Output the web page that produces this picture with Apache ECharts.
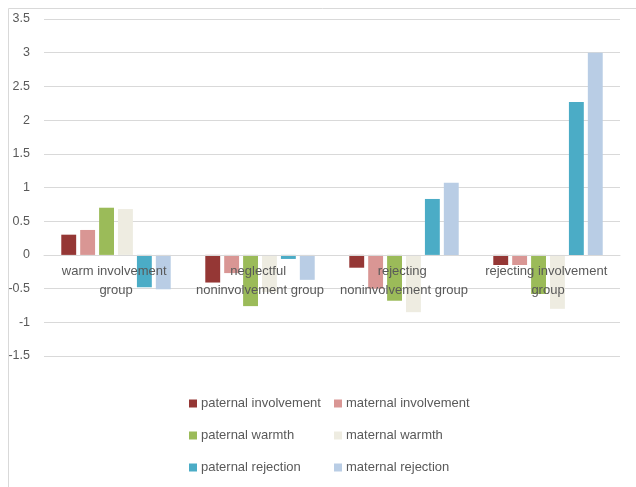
<!DOCTYPE html>
<html>
<head>
<meta charset="utf-8">
<script src="https://cdn.jsdelivr.net/npm/echarts@6/dist/echarts.min.js"></script>
<style>html,body{margin:0;padding:0;background:#fff;}#c{width:636px;height:487px;}</style>
</head>
<body>
<div id="c"></div>
<script>
var categories = ['warm involvement group', 'neglectful noninvolvement group', 'rejecting noninvolvement group', 'rejecting involvement group'];
var seriesNames = ['paternal involvement', 'maternal involvement', 'paternal warmth', 'maternal warmth', 'paternal rejection', 'maternal rejection'];
var paternalInvolvement = [0.30, -0.41, -0.19, -0.15];
var maternalInvolvement = [0.37, -0.27, -0.50, -0.15];
var paternalWarmth = [0.70, -0.76, -0.68, -0.58];
var maternalWarmth = [0.68, -0.55, -0.85, -0.80];
var paternalRejection = [-0.48, -0.06, 0.83, 2.27];
var maternalRejection = [-0.51, -0.37, 1.07, 3.00];
var yMin = -1.5, yMax = 3.5, yStep = 0.5;

var colors = ['#953735', '#d99694', '#9bbb59', '#eeece1', '#4bacc6', '#b9cde5'];
var values = [paternalInvolvement, maternalInvolvement, paternalWarmth, maternalWarmth, paternalRejection, maternalRejection];
var font = '"Liberation Sans", Arial, sans-serif';

var gridTop = 19, gridBottom = 131, chartH = 487;
var plotH = chartH - gridTop - gridBottom;
var zeroOffset = -((0 - yMin) / (yMax - yMin)) * plotH;

var series = seriesNames.map(function (n, i) {
  return {
    name: n, type: 'bar', data: values[i], z: 2,
    itemStyle: { color: colors[i] },
    barGap: '27%', barCategoryGap: '24%'
  };
});

var legendPos = [[189, 397], [334, 397], [189, 429], [334, 429], [189, 461], [334, 461]];
var legends = seriesNames.map(function (n, i) {
  return {
    data: [n], left: legendPos[i][0], top: legendPos[i][1],
    icon: 'rect', itemWidth: 8, itemHeight: 8, itemGap: 0,
    textStyle: { color: '#595959', fontSize: 13, fontFamily: font, padding: [0, 0, 0, -1] },
    padding: 0, selectedMode: false
  };
});

var chart = echarts.init(document.getElementById('c'), null, { renderer: 'canvas' });
chart.setOption({
  animation: false,
  color: colors,
  graphic: [{
    type: 'rect', shape: { x: 8.5, y: 8.5, width: 700, height: 600 },
    style: { fill: null, stroke: '#d9d9d9', lineWidth: 1 }, silent: true
  }],
  grid: { left: 44, right: 16, top: gridTop, bottom: gridBottom, containLabel: false },
  legend: legends,
  xAxis: {
    type: 'category', data: categories, position: 'bottom', offset: zeroOffset, z: 10,
    axisLine: { onZero: false, lineStyle: { color: '#d9d9d9', width: 1 } },
    axisTick: { show: false },
    axisLabel: {
      color: '#595959', fontSize: 13, fontFamily: font, margin: 7,
      width: 132, overflow: 'break', lineHeight: 19, interval: 0
    }
  },
  yAxis: {
    type: 'value', min: yMin, max: yMax, interval: yStep,
    axisLine: { show: false }, axisTick: { show: false },
    splitLine: { lineStyle: { color: '#d9d9d9', width: 1 } },
    axisLabel: { color: '#595959', fontSize: 12.5, fontFamily: font, margin: 14 }
  },
  series: series
});
</script>
</body>
</html>
